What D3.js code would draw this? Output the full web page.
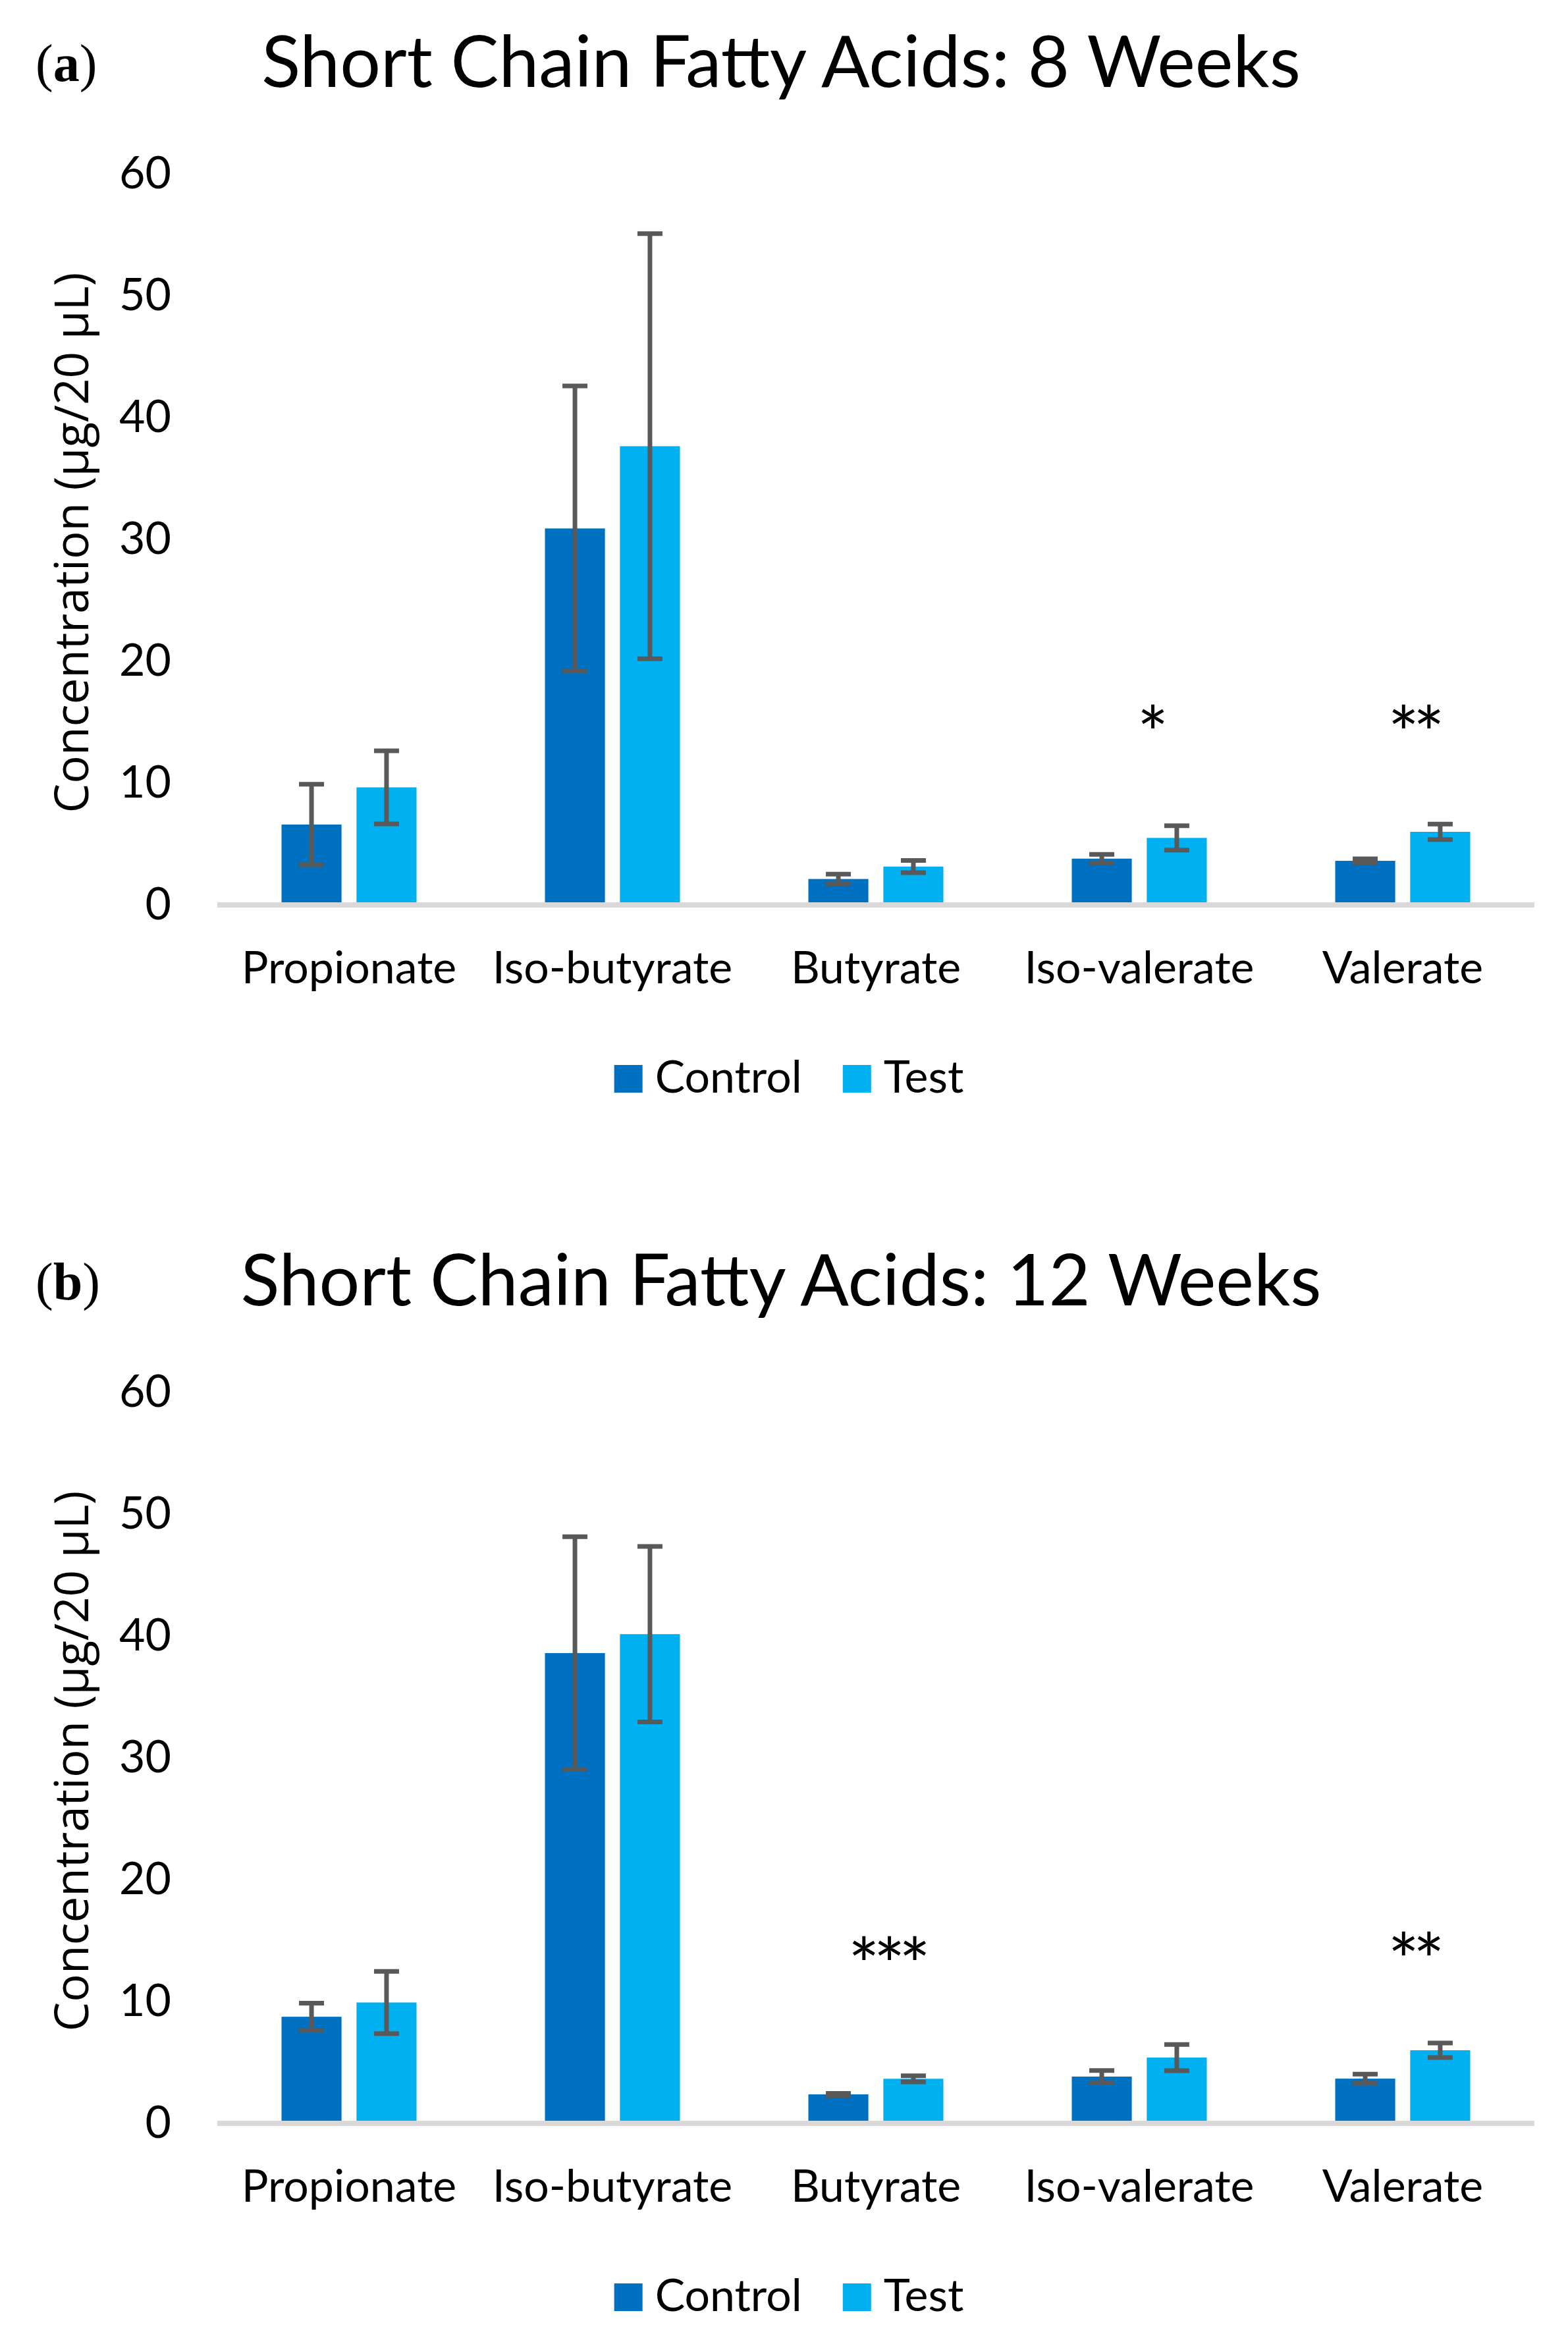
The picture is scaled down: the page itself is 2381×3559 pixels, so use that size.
<!DOCTYPE html>
<html>
<head>
<meta charset="utf-8">
<script src="https://cdn.jsdelivr.net/npm/d3@7"></script>
<style>
  body { margin: 0; background: #fff; }
  svg { display: block; }
</style>
</head>
<body>
<div id="root"></div>
<script>
// DATA
const categories = ["Propionate", "Iso-butyrate", "Butyrate", "Iso-valerate", "Valerate"];
const series = ["Control", "Test"];
const yTicks = [0, 10, 20, 30, 40, 50, 60];

// 8 weeks
const week8Control = [6.6, 30.9, 2.13, 3.8, 3.62];
const week8ControlErr = [3.3, 11.7, 0.4, 0.35, 0.16];
const week8Test = [9.65, 37.65, 3.15, 5.5, 6.0];
const week8TestErr = [3.0, 17.45, 0.5, 1.0, 0.64];
const week8Stars = [{cat: "Iso-valerate", text: "*", value: 15.2}, {cat: "Valerate", text: "**", value: 15.2}];

// 12 weeks
const week12Control = [8.75, 38.6, 2.38, 3.84, 3.67];
const week12ControlErr = [1.12, 9.55, 0.08, 0.5, 0.37];
const week12Test = [9.92, 40.15, 3.66, 5.4, 6.0];
const week12TestErr = [2.55, 7.2, 0.25, 1.07, 0.59];
const week12Stars = [{cat: "Butyrate", text: "***", value: 14.1}, {cat: "Valerate", text: "**", value: 14.5}];

const colors = {Control: "#0070C0", Test: "#00B0F0"};

//DIMENSIONS
const W = 2381, H = 3559;
const plotLeft = 330, plotRight = 2330;
const panelTop = 264, panelBottom = 1374; // y of 60 and 0
const panelShift = 1850;

const svg = d3.select("#root").append("svg")
  .attr("width", W).attr("height", H)
  .attr("viewBox", `0 0 ${W} ${H}`);

//SCALES
const x0 = d3.scaleBand().domain(categories).range([plotLeft, plotRight]).padding(0);
const bw = x0.bandwidth();
const x1 = d3.scaleBand().domain(series)
  .range([bw / 2 - 102.5, bw / 2 + 102.5]).paddingInner(0.2).paddingOuter(0);
const y = d3.scaleLinear().domain([0, 60]).range([panelBottom, panelTop]);

function drawPanel(offset, letter, title, ctrl, ctrlErr, test, testErr, stars) {
  const g = svg.append("g").attr("transform", `translate(0,${offset})`);

  // panel letter
  const lt = g.append("text")
    .attr("x", 54).attr("y", 123)
    .attr("font-family", "'Liberation Serif', 'DejaVu Serif', serif")
    .attr("font-size", 80).attr("fill", "#000");
  lt.append("tspan").text("(");
  lt.append("tspan").attr("font-weight", "bold").text(letter);
  lt.append("tspan").text(")");

  // title
  g.append("text")
    .attr("x", 1186).attr("y", 132)
    .attr("text-anchor", "middle")
    .attr("font-family", "Lato, sans-serif")
    .attr("font-size", 109).attr("fill", "#000")
    .text(title);

  // Y AXIS
  const yAxis = g.append("g")
    .attr("transform", `translate(${plotLeft},0)`)
    .call(d3.axisLeft(y).tickValues(yTicks).tickSize(0).tickPadding(70));
  yAxis.select(".domain").remove();
  yAxis.selectAll("text")
    .attr("font-family", "Lato, sans-serif")
    .attr("font-size", 68).attr("fill", "#000");

  // y title
  g.append("text")
    .attr("transform", `translate(134,824) rotate(-90)`)
    .attr("text-anchor", "middle")
    .attr("font-family", "'Open Sans', sans-serif")
    .attr("font-size", 71).attr("fill", "#000")
    .text("Concentration (\u00b5g/20 \u00b5L)");

  // rows
  const rows = categories.map((c, i) => ({
    cat: c,
    vals: [
      {s: "Control", v: ctrl[i], e: ctrlErr[i]},
      {s: "Test", v: test[i], e: testErr[i]}
    ]
  }));

  const groups = g.selectAll(".cat").data(rows).join("g")
    .attr("class", "cat")
    .attr("transform", d => `translate(${x0(d.cat)},0)`);

  groups.selectAll("rect").data(d => d.vals).join("rect")
    .attr("x", d => x1(d.s))
    .attr("width", x1.bandwidth())
    .attr("y", d => y(d.v))
    .attr("height", d => y(0) - y(d.v))
    .attr("fill", d => colors[d.s]);

  // category axis line
  g.append("line")
    .attr("x1", plotLeft).attr("x2", plotRight)
    .attr("y1", y(0)).attr("y2", y(0))
    .attr("stroke", "#D9D9D9").attr("stroke-width", 8);

  // ERROR BARS
  const eb = groups.selectAll(".err").data(d => d.vals).join("g").attr("class", "err")
    .attr("transform", d => `translate(${x1(d.s) + x1.bandwidth() / 2},0)`);
  eb.append("line")
    .attr("y1", d => y(d.v + d.e)).attr("y2", d => y(d.v - d.e))
    .attr("stroke", "#595959").attr("stroke-width", 7);
  eb.append("line")
    .attr("x1", -19).attr("x2", 19)
    .attr("y1", d => y(d.v + d.e)).attr("y2", d => y(d.v + d.e))
    .attr("stroke", "#595959").attr("stroke-width", 7);
  eb.append("line")
    .attr("x1", -19).attr("x2", 19)
    .attr("y1", d => y(d.v - d.e)).attr("y2", d => y(d.v - d.e))
    .attr("stroke", "#595959").attr("stroke-width", 7);

  // X AXIS labels
  const xAxis = g.append("g")
    .attr("transform", `translate(0,${y(0)})`)
    .call(d3.axisBottom(x0).tickSize(0));
  xAxis.select(".domain").remove();
  xAxis.selectAll("text")
    .attr("y", 119).attr("dy", null)
    .attr("font-family", "Lato, sans-serif")
    .attr("font-size", 68).attr("fill", "#000");

  // significance stars
  g.selectAll(".star").data(stars).join("text")
    .attr("class", "star")
    .attr("x", d => x0(d.cat) + bw / 2 + 16)
    .attr("y", d => y(d.value) + 62)
    .attr("text-anchor", "middle")
    .attr("letter-spacing", -9)
    .attr("font-family", "Lato, sans-serif")
    .attr("font-size", 112).attr("fill", "#000")
    .text(d => d.text);

  // LEGEND
  const leg = g.append("g");
  const items = leg.selectAll("g").data(series).join("g");
  items.append("rect")
    .attr("width", 43).attr("height", 42).attr("y", 1617)
    .attr("fill", d => colors[d]);
  items.append("text")
    .attr("x", 62).attr("y", 1659)
    .attr("font-family", "Lato, sans-serif")
    .attr("font-size", 68).attr("fill", "#000")
    .text(d => d);
  const widths = [];
  items.each(function () {
    widths.push(62 + d3.select(this).select("text").node().getComputedTextLength());
  });
  const gap = 62;
  const total = d3.sum(widths) + gap * (widths.length - 1);
  let start = 1198 - total / 2;
  items.attr("transform", (d, i) => {
    const tx = start;
    start += widths[i] + gap;
    return `translate(${tx},0)`;
  });
}

drawPanel(0, "a", "Short Chain Fatty Acids: 8 Weeks",
  week8Control, week8ControlErr, week8Test, week8TestErr, week8Stars);
drawPanel(panelShift, "b", "Short Chain Fatty Acids: 12 Weeks",
  week12Control, week12ControlErr, week12Test, week12TestErr, week12Stars);
</script>
</body>
</html>
